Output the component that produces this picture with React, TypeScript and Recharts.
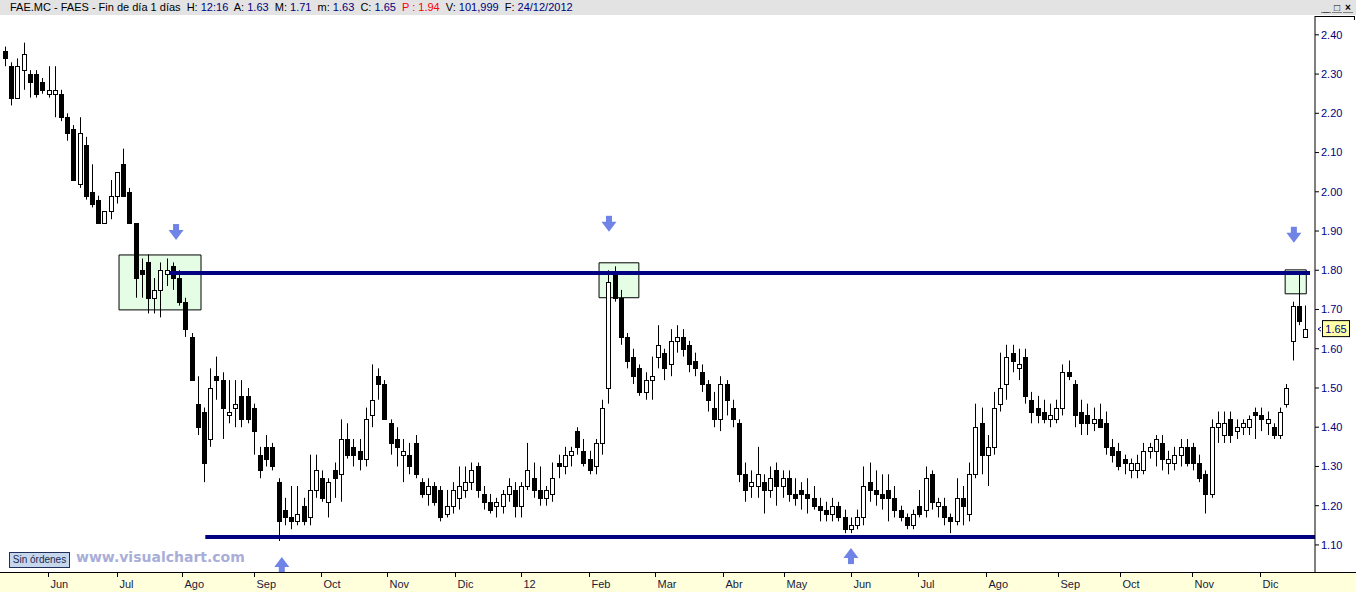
import React from 'react';
import {
  ComposedChart,
  Bar,
  XAxis,
  YAxis,
  ReferenceArea,
  ReferenceLine,
  Scatter,
} from 'recharts';

// ---- Data: 2-session candles, FAES (FAE.MC), May 2011 - Dec 2012 ----
const opens = [
  2.36, 2.32, 2.24, 2.31, 2.30, 2.30, 2.28, 2.25, 2.25, 2.25,
  2.19, 2.16, 2.02, 2.12, 2.00, 1.98, 1.92, 1.95, 1.99, 2.07,
  2.00, 1.92, 1.80, 1.82, 1.73, 1.75, 1.79, 1.81, 1.78, 1.72,
  1.63, 1.46, 1.44, 1.37, 1.53, 1.52, 1.43, 1.45, 1.48, 1.48,
  1.45, 1.33, 1.35, 1.35, 1.26, 1.19, 1.17, 1.16, 1.20, 1.17,
  1.24, 1.27, 1.21, 1.29, 1.28, 1.37, 1.35, 1.34, 1.32, 1.43,
  1.53, 1.51, 1.41, 1.37, 1.33, 1.33, 1.36, 1.26, 1.23, 1.25,
  1.24, 1.18, 1.20, 1.22, 1.24, 1.26, 1.30, 1.23, 1.21, 1.20,
  1.20, 1.23, 1.24, 1.20, 1.25, 1.27, 1.24, 1.22, 1.23, 1.31,
  1.30, 1.33, 1.39, 1.34, 1.32, 1.30, 1.36, 1.50, 1.79, 1.73,
  1.63, 1.58, 1.55, 1.49, 1.52, 1.58, 1.59, 1.56, 1.62, 1.63,
  1.61, 1.57, 1.54, 1.51, 1.45, 1.42, 1.51, 1.45, 1.41, 1.28,
  1.25, 1.25, 1.26, 1.24, 1.29, 1.25, 1.27, 1.23, 1.24, 1.23,
  1.22, 1.20, 1.19, 1.18, 1.20, 1.17, 1.14, 1.15, 1.17, 1.26,
  1.24, 1.23, 1.24, 1.22, 1.19, 1.17, 1.15, 1.20, 1.19, 1.28,
  1.20, 1.20, 1.17, 1.16, 1.22, 1.18, 1.28, 1.41, 1.33, 1.35,
  1.46, 1.51, 1.59, 1.55, 1.58, 1.47, 1.45, 1.44, 1.42, 1.42,
  1.45, 1.54, 1.51, 1.44, 1.43, 1.41, 1.42, 1.41, 1.35, 1.34,
  1.32, 1.29, 1.29, 1.29, 1.34, 1.34, 1.36, 1.31, 1.31, 1.33,
  1.35, 1.35, 1.31, 1.28, 1.23, 1.40, 1.38, 1.42, 1.39, 1.40,
  1.40, 1.44, 1.43, 1.41, 1.40, 1.38, 1.46, 1.62, 1.71, 1.63,
];
const highs = [
  2.37, 2.33, 2.34, 2.38, 2.31, 2.31, 2.29, 2.32, 2.32, 2.26,
  2.20, 2.17, 2.19, 2.14, 2.07, 1.99, 1.95, 2.03, 2.05, 2.11,
  2.01, 1.92, 1.83, 1.84, 1.78, 1.82, 1.83, 1.82, 1.80, 1.73,
  1.64, 1.53, 1.45, 1.55, 1.58, 1.54, 1.52, 1.52, 1.52, 1.50,
  1.46, 1.35, 1.38, 1.36, 1.27, 1.22, 1.25, 1.25, 1.22, 1.33,
  1.33, 1.29, 1.27, 1.31, 1.42, 1.41, 1.37, 1.37, 1.45, 1.56,
  1.55, 1.52, 1.42, 1.40, 1.37, 1.36, 1.38, 1.27, 1.27, 1.26,
  1.25, 1.24, 1.26, 1.30, 1.30, 1.31, 1.31, 1.25, 1.23, 1.22,
  1.24, 1.27, 1.26, 1.26, 1.36, 1.31, 1.30, 1.25, 1.31, 1.33,
  1.35, 1.35, 1.40, 1.37, 1.34, 1.37, 1.47, 1.80, 1.81, 1.75,
  1.64, 1.60, 1.56, 1.54, 1.58, 1.66, 1.60, 1.65, 1.66, 1.65,
  1.62, 1.59, 1.56, 1.52, 1.49, 1.53, 1.52, 1.47, 1.42, 1.31,
  1.29, 1.35, 1.28, 1.30, 1.31, 1.29, 1.29, 1.27, 1.26, 1.27,
  1.25, 1.22, 1.21, 1.22, 1.21, 1.19, 1.17, 1.19, 1.30, 1.31,
  1.29, 1.28, 1.28, 1.25, 1.20, 1.18, 1.19, 1.24, 1.30, 1.29,
  1.22, 1.22, 1.18, 1.27, 1.25, 1.31, 1.46, 1.45, 1.38, 1.49,
  1.59, 1.61, 1.61, 1.60, 1.60, 1.49, 1.48, 1.47, 1.46, 1.47,
  1.56, 1.57, 1.52, 1.47, 1.46, 1.45, 1.46, 1.44, 1.37, 1.36,
  1.33, 1.32, 1.33, 1.36, 1.36, 1.38, 1.38, 1.34, 1.35, 1.37,
  1.37, 1.36, 1.33, 1.29, 1.42, 1.44, 1.44, 1.44, 1.42, 1.42,
  1.43, 1.45, 1.45, 1.44, 1.41, 1.45, 1.51, 1.72, 1.79, 1.71,
];
const lows = [
  2.32, 2.22, 2.24, 2.26, 2.24, 2.24, 2.25, 2.24, 2.19, 2.18,
  2.13, 2.03, 2.01, 1.98, 1.96, 1.92, 1.92, 1.93, 1.97, 1.99,
  1.92, 1.73, 1.73, 1.69, 1.69, 1.68, 1.76, 1.75, 1.71, 1.63,
  1.52, 1.38, 1.26, 1.35, 1.47, 1.37, 1.41, 1.40, 1.40, 1.41,
  1.33, 1.27, 1.30, 1.29, 1.11, 1.15, 1.14, 1.15, 1.15, 1.15,
  1.22, 1.21, 1.17, 1.22, 1.21, 1.32, 1.30, 1.29, 1.30, 1.40,
  1.47, 1.42, 1.33, 1.30, 1.26, 1.28, 1.27, 1.22, 1.20, 1.20,
  1.16, 1.17, 1.18, 1.19, 1.22, 1.24, 1.22, 1.19, 1.18, 1.17,
  1.18, 1.21, 1.17, 1.17, 1.24, 1.22, 1.20, 1.20, 1.21, 1.27,
  1.28, 1.30, 1.33, 1.30, 1.28, 1.28, 1.33, 1.46, 1.72, 1.61,
  1.55, 1.51, 1.48, 1.47, 1.47, 1.55, 1.52, 1.53, 1.59, 1.58,
  1.54, 1.53, 1.49, 1.44, 1.40, 1.39, 1.43, 1.40, 1.26, 1.21,
  1.22, 1.22, 1.18, 1.22, 1.20, 1.22, 1.21, 1.20, 1.19, 1.18,
  1.19, 1.16, 1.16, 1.16, 1.16, 1.13, 1.13, 1.14, 1.15, 1.21,
  1.20, 1.19, 1.16, 1.17, 1.16, 1.14, 1.14, 1.17, 1.17, 1.19,
  1.17, 1.15, 1.13, 1.15, 1.15, 1.16, 1.27, 1.28, 1.25, 1.33,
  1.44, 1.47, 1.54, 1.52, 1.46, 1.41, 1.41, 1.41, 1.40, 1.41,
  1.43, 1.52, 1.40, 1.38, 1.38, 1.39, 1.40, 1.33, 1.31, 1.29,
  1.28, 1.27, 1.27, 1.28, 1.32, 1.30, 1.29, 1.28, 1.29, 1.30,
  1.30, 1.29, 1.26, 1.18, 1.22, 1.36, 1.36, 1.36, 1.37, 1.38,
  1.38, 1.37, 1.39, 1.38, 1.37, 1.37, 1.45, 1.57, 1.66, 1.63,
];
const closes = [
  2.34, 2.24, 2.32, 2.35, 2.28, 2.25, 2.26, 2.26, 2.26, 2.19,
  2.15, 2.03, 2.15, 1.99, 1.97, 1.92, 1.95, 1.99, 2.05, 1.99,
  1.92, 1.78, 1.79, 1.73, 1.75, 1.80, 1.80, 1.78, 1.72, 1.65,
  1.52, 1.40, 1.31, 1.50, 1.52, 1.45, 1.44, 1.46, 1.42, 1.42,
  1.39, 1.29, 1.32, 1.30, 1.16, 1.17, 1.16, 1.18, 1.16, 1.24,
  1.29, 1.22, 1.26, 1.27, 1.37, 1.33, 1.33, 1.32, 1.42, 1.47,
  1.51, 1.42, 1.36, 1.35, 1.34, 1.30, 1.28, 1.23, 1.25, 1.21,
  1.17, 1.20, 1.24, 1.25, 1.26, 1.29, 1.24, 1.21, 1.19, 1.21,
  1.23, 1.25, 1.20, 1.25, 1.29, 1.24, 1.22, 1.24, 1.27, 1.30,
  1.33, 1.34, 1.35, 1.31, 1.29, 1.36, 1.45, 1.77, 1.73, 1.63,
  1.57, 1.53, 1.49, 1.52, 1.53, 1.61, 1.55, 1.62, 1.63, 1.60,
  1.56, 1.55, 1.51, 1.47, 1.42, 1.51, 1.47, 1.42, 1.28, 1.24,
  1.26, 1.28, 1.24, 1.27, 1.25, 1.27, 1.23, 1.22, 1.23, 1.22,
  1.20, 1.19, 1.18, 1.20, 1.17, 1.14, 1.15, 1.17, 1.25, 1.24,
  1.23, 1.22, 1.22, 1.19, 1.17, 1.15, 1.18, 1.18, 1.27, 1.21,
  1.21, 1.17, 1.16, 1.22, 1.20, 1.28, 1.40, 1.33, 1.35, 1.45,
  1.50, 1.58, 1.57, 1.56, 1.48, 1.44, 1.43, 1.42, 1.43, 1.45,
  1.54, 1.53, 1.43, 1.41, 1.41, 1.42, 1.40, 1.35, 1.33, 1.30,
  1.31, 1.31, 1.31, 1.34, 1.35, 1.37, 1.32, 1.32, 1.33, 1.35,
  1.31, 1.31, 1.27, 1.23, 1.40, 1.41, 1.41, 1.38, 1.40, 1.41,
  1.42, 1.43, 1.42, 1.42, 1.38, 1.44, 1.50, 1.71, 1.67, 1.65,
];

// month ticks (candle-index positions of the first session of each month)
const monthTicks = [6.9, 18.0, 28.5, 40.0, 50.8, 61.4, 72.3, 83.0, 93.9, 104.5, 115.4, 125.2, 136.0, 146.8, 157.7, 169.3, 179.3, 190.8, 201.8];
const monthLabels = ['Jun', 'Jul', 'Ago', 'Sep', 'Oct', 'Nov', 'Dic', '12', 'Feb', 'Mar', 'Abr', 'May', 'Jun', 'Jul', 'Ago', 'Sep', 'Oct', 'Nov', 'Dic'];
const priceTicks = [1.1, 1.2, 1.3, 1.4, 1.5, 1.6, 1.7, 1.8, 1.9, 2.0, 2.1, 2.2, 2.3, 2.4];
const xDomain = [-0.804, 210.6];
const yDomain = [1.031, 2.448];

// annotations
const resistanceLevel = 1.793;
const resistanceFrom = 26.5;
const resistanceTo = 209.8;
const supportLevel = 1.12;
const supportFrom = 32.2;
const supportTo = 210.6;
const boxX1 = [18.33, 95.5, 205.8];
const boxX2 = [31.51, 101.9, 209.2];
const boxTop = [1.839, 1.819, 1.801];
const boxBottom = [1.699, 1.73, 1.74];
const downArrowIdx = [27.5, 97.1, 207.2];
const downArrowPrice = [1.877, 1.898, 1.87];
const upArrowIdx = [44.5, 136.0];
const upArrowPrice = [1.069, 1.092];
const lastPrice = 1.65;

const headerParts: [string, string][] = [
  ['FAE.MC - FAES - Fin de día 1 días  H: ', '#000'],
  ['12:16', '#000080'],
  ['  A: ', '#000'],
  ['1.63', '#000080'],
  ['  M: ', '#000'],
  ['1.71', '#000080'],
  ['  m: ', '#000'],
  ['1.63', '#000080'],
  ['  C: ', '#000'],
  ['1.65', '#000080'],
  ['  P : 1.94', '#ff0000'],
  ['  V: ', '#000'],
  ['101,999', '#000080'],
  ['  F: ', '#000'],
  ['24/12/2012', '#000080'],
];

const rows = opens.map((o, i) => ({
  i,
  open: o,
  high: highs[i],
  low: lows[i],
  close: closes[i],
  range: [lows[i], highs[i]],
}));
const downArrows = downArrowIdx.map((x, k) => ({ i: x, y: downArrowPrice[k] }));
const upArrows = upArrowIdx.map((x, k) => ({ i: x, y: upArrowPrice[k] }));

const FONT = '"Liberation Sans", Arial, sans-serif';
const ARROW = '#6f84e6';

const Candle = (props: any) => {
  const { x, y, width, height, payload } = props;
  if (x == null || y == null) return null;
  const top = Math.min(y, y + height);
  const h = Math.abs(height);
  const { open, close, high, low } = payload;
  const span = high - low;
  const k = span > 0 ? h / span : 0;
  const py = (v: number) => top + (high - v) * k;
  const cx = Math.round(x + width / 2) + 0.5;
  const bTop = Math.round(py(Math.max(open, close))) + 0.5;
  const bBot = Math.round(py(Math.min(open, close))) + 0.5;
  const up = close >= open;
  return (
    <g>
      <line x1={cx} x2={cx} y1={top} y2={top + h} stroke="#000" strokeWidth={1} />
      <rect
        x={cx - 2}
        y={bTop}
        width={4}
        height={Math.max(bBot - bTop, 1)}
        fill={up ? '#fff' : '#000'}
        stroke="#000"
        strokeWidth={1}
      />
    </g>
  );
};

const DownArrow = (props: any) => {
  const { cx, cy } = props;
  if (cx == null) return null;
  return (
    <g>
      <rect x={cx - 3} y={cy - 16} width={6} height={7} fill={ARROW} />
      <path d={`M${cx - 7.5},${cy - 10} L${cx + 7.5},${cy - 10} L${cx},${cy} Z`} fill={ARROW} />
    </g>
  );
};

const UpArrow = (props: any) => {
  const { cx, cy } = props;
  if (cx == null) return null;
  return (
    <g>
      <path d={`M${cx - 7.5},${cy + 10} L${cx + 7.5},${cy + 10} L${cx},${cy} Z`} fill={ARROW} />
      <rect x={cx - 3} y={cy + 9} width={6} height={7} fill={ARROW} />
    </g>
  );
};

const MonthTick = (props: any) => {
  const { x, y, payload } = props;
  const idx = monthTicks.indexOf(payload.value);
  const lx = Math.round(x) + 0.5;
  return (
    <g>
      <line x1={lx} x2={lx} y1={y} y2={y + 5} stroke="#000" strokeWidth={1} />
      <text x={lx + 2} y={y + 16} fontSize={11} fontFamily={FONT} fill="#1a1a3a">
        {monthLabels[idx]}
      </text>
    </g>
  );
};

const PriceTag = (props: any) => {
  const vb = props.viewBox || {};
  const right = (vb.x || 0) + (vb.width || 0);
  const yy = vb.y || 0;
  return (
    <g>
      <path d={`M${right + 6},${yy - 2} L${right + 3},${yy} L${right + 6},${yy + 2}`} stroke="#000080" fill="none" strokeWidth={1} />
      <rect x={right + 7.5} y={yy - 8.5} width={27} height={16} fill="#ffffa8" stroke="#000" strokeWidth={1} />
      <text x={right + 21} y={yy + 4} textAnchor="middle" fontSize={11} fontFamily={FONT} fill="#000080">
        {lastPrice.toFixed(2)}
      </text>
    </g>
  );
};

const WinButton = ({ left, glyph }: { left: number; glyph: string }) => (
  <div
    style={{
      position: 'absolute',
      left,
      top: 2,
      width: 10,
      height: 11,
      borderBottom: '1px solid #808080',
      fontFamily: FONT,
      fontSize: 10,
      fontWeight: 'bold',
      lineHeight: '11px',
      textAlign: 'center',
      color: '#000',
      boxSizing: 'border-box',
    }}
  >
    {glyph}
  </div>
);

export default function App() {
  return (
    <div
      style={{
        position: 'absolute',
        left: 0,
        top: 0,
        width: 1356,
        height: 592,
        background: '#fff',
        overflow: 'hidden',
      }}
    >
      {/* title bar */}
      <div
        style={{
          position: 'absolute',
          left: 0,
          top: 0,
          width: 1356,
          height: 15,
          background: '#e3e3e3',
          fontFamily: FONT,
          fontSize: 11,
          lineHeight: '15px',
          whiteSpace: 'pre',
        }}
      >
        <span style={{ position: 'absolute', left: 10, top: 0 }}>
          {headerParts.map(([t, c], k) => (
            <span key={k} style={{ color: c }}>
              {t}
            </span>
          ))}
        </span>
        <WinButton left={1321} glyph="_" />
        <WinButton left={1332} glyph="□" />
        <WinButton left={1343} glyph="×" />
      </div>
      {/* bottom axis strip */}
      <div
        style={{
          position: 'absolute',
          left: 0,
          top: 572,
          width: 1356,
          height: 20,
          background: '#ffffdc',
          borderTop: '1px solid #000',
          boxSizing: 'border-box',
        }}
      />
      {/* axis panel top bracket */}
      <div
        style={{
          position: 'absolute',
          left: 1315,
          top: 16,
          width: 40,
          height: 4,
          borderTop: '1px solid #000',
          borderRight: '1px solid #000',
          boxSizing: 'border-box',
        }}
      />
      <div style={{ position: 'absolute', left: 0, top: 0 }}>
        <ComposedChart
          width={1356}
          height={592}
          data={rows}
          margin={{ top: 16, right: 0, bottom: 0, left: 0 }}
        >
          <XAxis
            dataKey="i"
            type="number"
            domain={xDomain}
            allowDataOverflow
            ticks={monthTicks}
            interval={0}
            height={20}
            axisLine={false}
            tickLine={false}
            tickSize={0}
            tickMargin={0}
            tick={<MonthTick />}
          />
          <YAxis
            orientation="right"
            domain={yDomain}
            allowDataOverflow
            ticks={priceTicks}
            interval={0}
            width={41}
            tickSize={4}
            tickMargin={2}
            axisLine={{ stroke: '#000' }}
            tickLine={{ stroke: '#000' }}
            tick={{ fill: '#000080', fontSize: 11, fontFamily: FONT, textAnchor: 'start' }}
            tickFormatter={(v: number) => v.toFixed(2)}
          />
          {boxX1.map((x1, k) => (
            <ReferenceArea
              key={`box${k}`}
              x1={x1}
              x2={boxX2[k]}
              y1={boxBottom[k]}
              y2={boxTop[k]}
              fill="#e4fde4"
              fillOpacity={1}
              stroke="#000"
              strokeWidth={1}
              ifOverflow="visible"
            />
          ))}
          <Bar dataKey="range" barSize={5} shape={<Candle />} isAnimationActive={false} />
          <ReferenceLine
            segment={[
              { x: resistanceFrom, y: resistanceLevel },
              { x: resistanceTo, y: resistanceLevel },
            ]}
            stroke="#000080"
            strokeWidth={4}
            ifOverflow="visible"
          />
          <ReferenceLine
            segment={[
              { x: supportFrom, y: supportLevel },
              { x: supportTo, y: supportLevel },
            ]}
            stroke="#000080"
            strokeWidth={4}
            ifOverflow="visible"
          />
          <ReferenceLine y={lastPrice} stroke="none" label={<PriceTag />} />
          <Scatter data={downArrows} dataKey="y" shape={<DownArrow />} isAnimationActive={false} />
          <Scatter data={upArrows} dataKey="y" shape={<UpArrow />} isAnimationActive={false} />
        </ComposedChart>
      </div>
      {/* footer badges */}
      <div
        style={{
          position: 'absolute',
          left: 9,
          top: 552,
          width: 59,
          height: 14,
          background: '#c6d6ec',
          border: '1px solid #20305a',
          fontFamily: FONT,
          fontSize: 10,
          lineHeight: '14px',
          color: '#1a2a50',
          textAlign: 'center',
          whiteSpace: 'nowrap',
        }}
      >
        Sin órdenes
      </div>
      <div
        style={{
          position: 'absolute',
          left: 76,
          top: 548,
          fontFamily: '"DejaVu Sans", Verdana, sans-serif',
          fontWeight: 'bold',
          fontSize: 14,
          lineHeight: '18px',
          color: '#a8aed8',
          whiteSpace: 'nowrap',
        }}
      >
        www.visualchart.com
      </div>
    </div>
  );
}
